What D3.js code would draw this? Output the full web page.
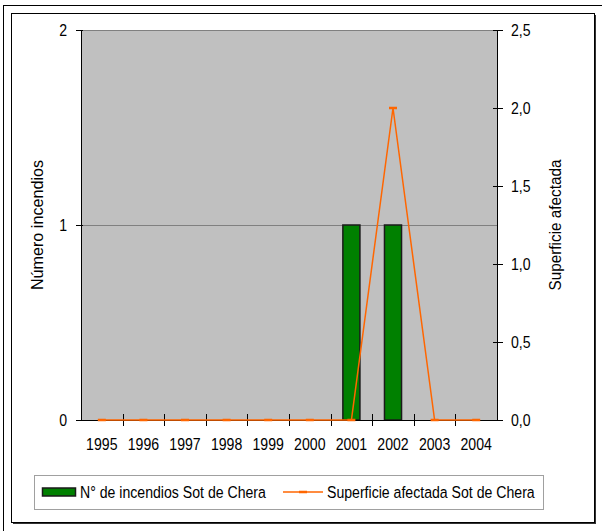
<!DOCTYPE html>
<html>
<head>
<meta charset="utf-8">
<script src="https://cdn.jsdelivr.net/npm/d3@7"></script>
<style>
  body { margin: 0; background: #fff; }
  svg text { font-family: "Liberation Sans", Arial, sans-serif; fill: #000; }
</style>
</head>
<body>
<svg width="602" height="531"></svg>
<script>
const years = ["1995", "1996", "1997", "1998", "1999", "2000", "2001", "2002", "2003", "2004"]
const incendios = [0, 0, 0, 0, 0, 0, 1, 1, 0, 0]
const superficie = [0, 0, 0, 0, 0, 0, 0, 2.0, 0, 0]
const leftTicks = [0, 1, 2]
const rightTicks = [0, 0.5, 1.0, 1.5, 2.0, 2.5]

const FONT = "'Liberation Sans', Arial, sans-serif"
const FS = 17
const SX = 0.83   // narrow look of the original font

const svg = d3.select("svg")
const margin = {top: 30, right: 105, bottom: 111, left: 81}
const width = 602, height = 531

// squeeze a text horizontally around its own x
const narrow = sel => sel.each(function () {
  const t = d3.select(this)
  const x0 = +(t.attr("x") || 0)
  t.attr("x", x0 / SX).attr("transform", `scale(${SX},1)`)
})

// frames
svg.append("rect").attr("x", 3.5).attr("y", 5.5).attr("width", 620).attr("height", 540)
  .attr("fill", "none").attr("stroke", "#000")
svg.append("rect").attr("x", 13).attr("y", 15).attr("width", 583).attr("height", 509)
  .attr("fill", "#333")
svg.append("rect").attr("x", 11.5).attr("y", 13.5).attr("width", 583).attr("height", 509)
  .attr("fill", "#fff").attr("stroke", "#000")

const x = d3.scaleBand()
  .domain(years)
  .range([margin.left, width - margin.right])

const yL = d3.scaleLinear().domain([0, 2]).range([height - margin.bottom, margin.top])
const yR = d3.scaleLinear().domain([0, 2.5]).range([height - margin.bottom, margin.top])

// plot area
svg.append("rect")
  .attr("x", margin.left).attr("y", margin.top)
  .attr("width", width - margin.right - margin.left)
  .attr("height", height - margin.bottom - margin.top)
  .attr("fill", "#c0c0c0")

// gridlines
svg.append("g")
  .selectAll("line")
  .data(leftTicks.filter(d => d > 0))
  .join("line")
  .attr("x1", margin.left).attr("x2", width - margin.right)
  .attr("y1", d => Math.round(yL(d)) + 0.5).attr("y2", d => Math.round(yL(d)) + 0.5)
  .attr("stroke", "#808080")

// bars
const barW = x.bandwidth() * 0.41
svg.append("g")
  .selectAll("rect")
  .data(years.map((y, i) => ({year: y, value: incendios[i]})).filter(d => d.value > 0))
  .join("rect")
  .attr("x", d => x(d.year) + (x.bandwidth() - barW) / 2)
  .attr("y", d => yL(d.value))
  .attr("width", barW)
  .attr("height", d => yL(0) - yL(d.value))
  .attr("fill", "#008000")
  .attr("stroke", "#1a1a1a")
  .attr("stroke-width", 1.5)

// axes
const tickFont = g => g.selectAll("text")
  .attr("font-size", FS)
  .attr("font-family", FONT)
  .call(narrow)

svg.append("g")
  .attr("transform", `translate(${margin.left},0)`)
  .call(d3.axisLeft(yL).tickValues(leftTicks).tickFormat(d3.format("d")).tickSizeInner(5).tickSizeOuter(0).tickPadding(9))
  .call(g => g.selectAll(".tick line").attr("x2", 2).attr("x1", -5))
  .call(g => g.select(".domain").attr("stroke", "#000"))
  .call(tickFont)

svg.append("g")
  .attr("transform", `translate(${width - margin.right},0)`)
  .call(d3.axisRight(yR).tickValues(rightTicks).tickFormat(d => d3.format(".1f")(d).replace(".", ",")).tickSizeInner(5).tickSizeOuter(0).tickPadding(9))
  .call(g => g.selectAll(".tick line").attr("x1", -4).attr("x2", 6))
  .call(g => g.select(".domain").attr("stroke", "#000"))
  .call(tickFont)

const xAxis = svg.append("g")
  .attr("transform", `translate(0,${height - margin.bottom})`)
  .call(d3.axisBottom(x).tickSize(0).tickPadding(18))
  .call(tickFont)
xAxis.select(".domain").attr("stroke", "#000")
// tick marks between categories
xAxis.selectAll(".sep")
  .data(years.slice(1))
  .join("line")
  .attr("class", "sep")
  .attr("x1", d => Math.round(x(d)) + 0.5).attr("x2", d => Math.round(x(d)) + 0.5)
  .attr("y1", -6).attr("y2", 6)
  .attr("stroke", "#000")

// line series
const pts = years.map((y, i) => ({year: y, value: superficie[i]}))
const line = d3.line()
  .x(d => x(d.year) + x.bandwidth() / 2)
  .y(d => yR(d.value))
svg.append("path")
  .datum(pts)
  .attr("d", line)
  .attr("fill", "none")
  .attr("stroke", "#ff6600")
  .attr("stroke-width", 1.5)
svg.append("g")
  .selectAll("line")
  .data(pts)
  .join("line")
  .attr("x1", d => x(d.year) + x.bandwidth() / 2 - 4)
  .attr("x2", d => x(d.year) + x.bandwidth() / 2 + 4)
  .attr("y1", d => yR(d.value)).attr("y2", d => yR(d.value))
  .attr("stroke", "#ff6600")
  .attr("stroke-width", 2.5)

// axis titles
svg.append("text")
  .attr("transform", `translate(43,${(margin.top + height - margin.bottom) / 2}) rotate(-90) scale(0.95,1)`)
  .attr("text-anchor", "middle")
  .attr("font-size", FS)
  .text("Número incendios")
svg.append("text")
  .attr("transform", `translate(561,${(margin.top + height - margin.bottom) / 2}) rotate(-90) scale(0.9,1)`)
  .attr("text-anchor", "middle")
  .attr("font-size", FS)
  .text("Superficie afectada")

// legend
const legend = svg.append("g")
legend.append("rect")
  .attr("x", 34.5).attr("y", 475.5).attr("width", 509).attr("height", 34)
  .attr("fill", "#fff").attr("stroke", "#a0a0a0")
legend.append("rect")
  .attr("x", 42.5).attr("y", 488).attr("width", 33).attr("height", 8)
  .attr("fill", "#008000").attr("stroke", "#1a1a1a").attr("stroke-width", 1.5)
legend.append("text")
  .attr("x", 80).attr("y", 498)
  .attr("font-size", FS)
  .text("N° de incendios Sot de Chera")
  .call(narrow)
legend.append("line")
  .attr("x1", 283).attr("x2", 323).attr("y1", 492).attr("y2", 492)
  .attr("stroke", "#ff6600").attr("stroke-width", 1.5)
legend.append("line")
  .attr("x1", 299).attr("x2", 307).attr("y1", 492).attr("y2", 492)
  .attr("stroke", "#ff6600").attr("stroke-width", 2.5)
legend.append("text")
  .attr("x", 327).attr("y", 498)
  .attr("font-size", FS)
  .text("Superficie afectada Sot de Chera")
  .call(narrow)
</script>
</body>
</html>
